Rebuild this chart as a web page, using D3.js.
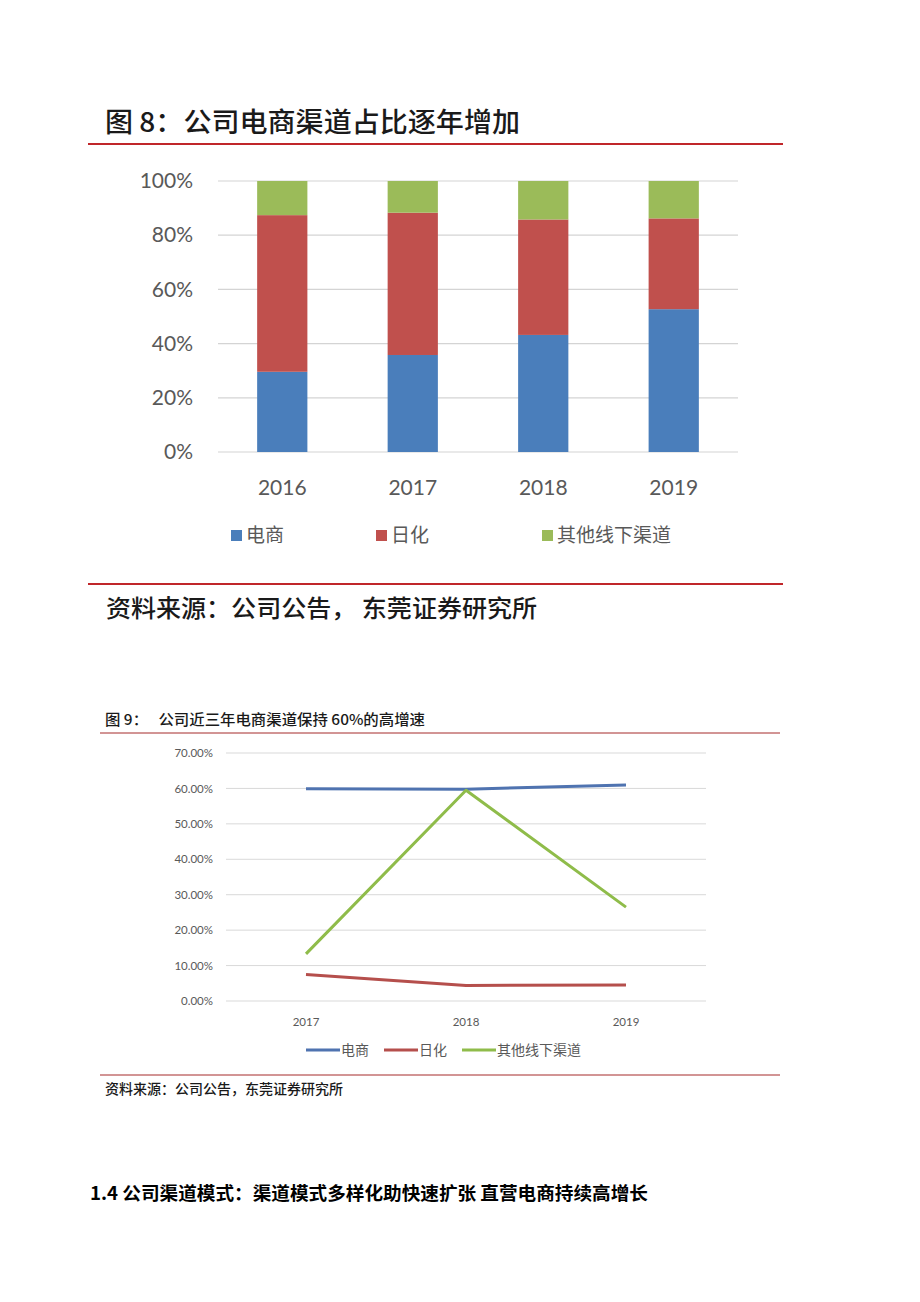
<!DOCTYPE html>
<html>
<head>
<meta charset="utf-8" />
<title>公司电商渠道</title>
<style>
  html, body { margin: 0; padding: 0; background: #fff; }
  text { font-family: "Noto Sans CJK SC", "Noto Sans", sans-serif; }
  .num { font-family: Lato, "Open Sans", sans-serif; }
</style>
</head>
<body>
<svg width="920" height="1302"></svg>
<script src="https://d3js.org/d3.v7.min.js"></script>
<script>
// ---- data: figure 8 (channel share, stacked 100%) ----
var years8 = ["2016", "2017", "2018", "2019"];
var seriesNames8 = ["电商", "日化", "其他线下渠道"];
var ecomShare = [29.6, 35.8, 43.2, 52.7];
var dailyShare = [57.8, 52.5, 42.6, 33.5];
var otherShare = [12.6, 11.7, 14.2, 13.8];
var yTicks8 = [0, 20, 40, 60, 80, 100];

// ---- data: figure 9 (growth rates) ----
var years9 = ["2017", "2018", "2019"];
var seriesNames9 = ["电商", "日化", "其他线下渠道"];
var ecomGrowth = [59.9, 59.8, 61.0];
var dailyGrowth = [7.5, 4.4, 4.5];
var otherGrowth = [13.3, 59.5, 26.5];
var yTicks9 = [0, 10, 20, 30, 40, 50, 60, 70];

var colors = ["#4a7ebb", "#c0504d", "#9bbb59"];
var lineColors = ["#4f73b0", "#b54f4c", "#8fbc4a"];

var svg = d3.select("svg");

// ================= figure 8 =================
svg.append("text")
    .attr("x", 105).attr("y", 132)
    .attr("font-size", 27).attr("font-weight", 500).attr("fill", "#1a1a1a")
    .attr("textLength", 415).attr("lengthAdjust", "spacingAndGlyphs")
    .text("图 8：公司电商渠道占比逐年增加");
svg.append("line").attr("x1", 88).attr("x2", 783).attr("y1", 144).attr("y2", 144)
    .attr("stroke", "#c0262a").attr("stroke-width", 2);

var x8 = d3.scaleBand().domain(years8).range([218, 738]).paddingInner(0.615).paddingOuter(0.3);
var y8 = d3.scaleLinear().domain([0, 100]).range([452, 181]);

var g8 = svg.append("g");
g8.selectAll("line.grid").data(yTicks8).enter().append("line")
    .attr("x1", 218).attr("x2", 738)
    .attr("y1", function (d) { return y8(d); }).attr("y2", function (d) { return y8(d); })
    .attr("stroke", "#d4d4d4").attr("stroke-width", 1.2);

var table8 = years8.map(function (yr, i) {
    return { year: yr, a: ecomShare[i], b: dailyShare[i], c: otherShare[i] };
});
var stack8 = d3.stack().keys(["a", "b", "c"])(table8);
g8.selectAll("g.s").data(stack8).enter().append("g")
    .attr("fill", function (d, i) { return colors[i]; })
    .selectAll("rect").data(function (d) { return d; }).enter().append("rect")
    .attr("x", function (d) { return x8(d.data.year); })
    .attr("width", x8.bandwidth())
    .attr("y", function (d) { return y8(d[1]); })
    .attr("height", function (d) { return y8(d[0]) - y8(d[1]); });

var yAxis8 = g8.append("g").attr("transform", "translate(193,0)")
    .call(d3.axisLeft(y8).tickValues(yTicks8).tickSize(0).tickFormat(function (d) { return d + "%"; }));
yAxis8.select(".domain").remove();
yAxis8.selectAll("text").attr("class", "num").attr("font-size", 21).attr("fill", "#595959").attr("x", 0);

var xAxis8 = g8.append("g").attr("transform", "translate(0,477)")
    .call(d3.axisBottom(x8).tickSize(0));
xAxis8.select(".domain").remove();
xAxis8.selectAll("text").attr("class", "num").attr("font-size", 21).attr("fill", "#595959").attr("dy", "0.71em");

var legX8 = [231, 376, 542];
var leg8 = svg.append("g").selectAll("g").data(seriesNames8).enter().append("g")
    .attr("transform", function (d, i) { return "translate(" + legX8[i] + ",535)"; });
leg8.append("rect").attr("x", 0).attr("y", -5).attr("width", 11).attr("height", 11)
    .attr("fill", function (d, i) { return colors[i]; });
leg8.append("text").attr("x", 15).attr("y", 7).attr("font-size", 19).attr("fill", "#595959")
    .text(function (d) { return d; });

svg.append("line").attr("x1", 88).attr("x2", 783).attr("y1", 584).attr("y2", 584)
    .attr("stroke", "#c0262a").attr("stroke-width", 2);
svg.append("text")
    .attr("x", 106).attr("y", 617)
    .attr("font-size", 24).attr("font-weight", 500).attr("fill", "#1a1a1a")
    .attr("textLength", 431).attr("lengthAdjust", "spacingAndGlyphs")
    .text("资料来源：公司公告， 东莞证券研究所");

// ================= figure 9 =================
svg.append("text")
    .attr("x", 105).attr("y", 725)
    .attr("font-size", 14.5).attr("font-weight", 500).attr("fill", "#1a1a1a")
    .attr("xml:space", "preserve")
    .attr("textLength", 320).attr("lengthAdjust", "spacingAndGlyphs")
    .text("图 9：   公司近三年电商渠道保持 60%的高增速");
svg.append("line").attr("x1", 100).attr("x2", 780).attr("y1", 733).attr("y2", 733)
    .attr("stroke", "#a52a2a").attr("stroke-width", 1);

var x9 = d3.scaleBand().domain(years9).range([226, 706]);
var y9 = d3.scaleLinear().domain([0, 70]).range([1001, 753]);

var g9 = svg.append("g");
g9.selectAll("line.grid").data(yTicks9).enter().append("line")
    .attr("x1", 226).attr("x2", 706)
    .attr("y1", function (d) { return y9(d); }).attr("y2", function (d) { return y9(d); })
    .attr("stroke", "#d9d9d9").attr("stroke-width", 1);

var yAxis9 = g9.append("g").attr("transform", "translate(213,0)")
    .call(d3.axisLeft(y9).tickValues(yTicks9).tickSize(0).tickFormat(function (d) { return d.toFixed(2) + "%"; }));
yAxis9.select(".domain").remove();
yAxis9.selectAll("text").attr("class", "num").attr("font-size", 11.5).attr("fill", "#595959").attr("x", 0);

var xAxis9 = g9.append("g").attr("transform", "translate(0,1015)")
    .call(d3.axisBottom(x9).tickSize(0));
xAxis9.select(".domain").remove();
xAxis9.selectAll("text").attr("class", "num").attr("font-size", 11.5).attr("fill", "#595959").attr("dy", "0.71em");

var lineData9 = [ecomGrowth, dailyGrowth, otherGrowth];
var line9 = d3.line()
    .x(function (d, i) { return x9(years9[i]) + x9.bandwidth() / 2; })
    .y(function (d) { return y9(d); });
g9.selectAll("path.series").data(lineData9).enter().append("path")
    .attr("fill", "none")
    .attr("stroke", function (d, i) { return lineColors[i]; })
    .attr("stroke-width", 3)
    .attr("stroke-linejoin", "round")
    .attr("d", line9);

var legX9 = [306, 384, 462];
var leg9 = svg.append("g").selectAll("g").data(seriesNames9).enter().append("g")
    .attr("transform", function (d, i) { return "translate(" + legX9[i] + ",1050)"; });
leg9.append("line").attr("x1", 0).attr("x2", 34).attr("y1", 0).attr("y2", 0)
    .attr("stroke", function (d, i) { return lineColors[i]; }).attr("stroke-width", 3);
leg9.append("text").attr("x", 35).attr("y", 5).attr("font-size", 14).attr("fill", "#595959")
    .text(function (d) { return d; });

svg.append("line").attr("x1", 100).attr("x2", 780).attr("y1", 1075).attr("y2", 1075)
    .attr("stroke", "#a52a2a").attr("stroke-width", 1);
svg.append("text")
    .attr("x", 105).attr("y", 1094)
    .attr("font-size", 13.5).attr("font-weight", 500).attr("fill", "#1a1a1a")
    .attr("textLength", 238).attr("lengthAdjust", "spacingAndGlyphs")
    .text("资料来源：公司公告，东莞证券研究所");

// ---- section heading ----
svg.append("text")
    .attr("x", 90).attr("y", 1200)
    .attr("font-size", 18).attr("font-weight", 700).attr("fill", "#000")
    .attr("textLength", 558).attr("lengthAdjust", "spacingAndGlyphs")
    .text("1.4 公司渠道模式：渠道模式多样化助快速扩张 直营电商持续高增长");
</script>
</body>
</html>
